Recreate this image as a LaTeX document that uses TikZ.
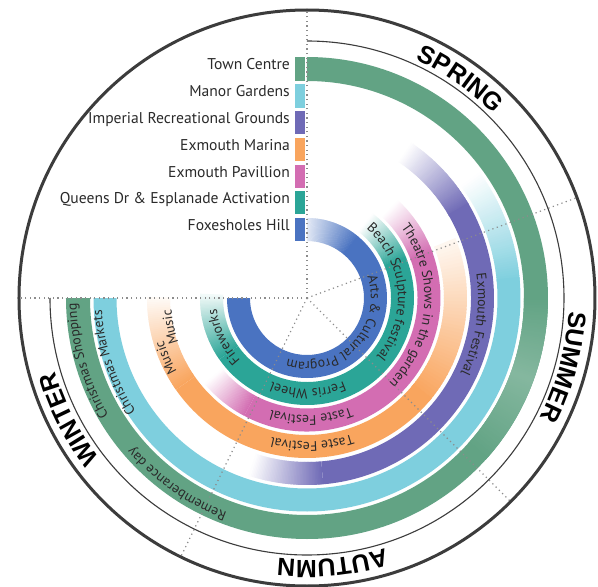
\documentclass[tikz,border=0pt]{standalone}
\usepackage{fontspec}
\setmainfont{PT Sans}
\newfontfamily\seasonfam{Liberation Sans}
\usetikzlibrary{decorations.text}
\definecolor{cgreen}{HTML}{62A384}
\definecolor{clblue}{HTML}{7ECFDE}
\definecolor{cpurple}{HTML}{6F6AB6}
\definecolor{corange}{HTML}{F9A55E}
\definecolor{cpink}{HTML}{D36DB2}
\definecolor{cteal}{HTML}{2BA597}
\definecolor{cblue}{HTML}{4A73C1}
\definecolor{cdot}{HTML}{8C8C8C}
\definecolor{cline}{HTML}{3C3C3C}
\definecolor{ctext}{HTML}{2A2A2A}
\newcommand{\ringsec}[5]{%
  \fill[#5] (#3:#1) arc[start angle=#3,end angle=#4,radius=#1] -- (#4:#2) arc[start angle=#4,end angle=#3,radius=#2] -- cycle;}
\newcommand{\ringfade}[7]{%
  \foreach \k in {0,...,47}{%
    \pgfmathsetmacro{\angA}{#3+(#4-#3)*\k/48}%
    \pgfmathsetmacro{\angB}{#3+(#4-#3)*(\k+1.4)/48}%
    \pgfmathsetmacro{\pctm}{#6+(#7-#6)*(\k+0.5)/48}%
    \fill[#5!\pctm!white] (\angA:#1) arc[start angle=\angA,end angle=\angB,radius=#1] -- (\angB:#2) arc[start angle=\angB,end angle=\angA,radius=#2] -- cycle;
  }}
\newcommand{\ringlabelfont}{\fontsize{13.8}{13.8}\selectfont\color{ctext}}
\newcommand{\seasonfont}{\seasonfam\bfseries\fontsize{25}{25}\selectfont\color{black}}
\newcommand{\arctext}[5]{%
  \path[decorate,decoration={text along path,text align=center,text={|#4|#5}}]
    ({#1+#2}:#3) arc[start angle={#1+#2},end angle={#1-#2},radius=#3];}
\tikzset{
  guide/.style={cdot,line width=1.2pt,dash pattern=on 1.2pt off 3.4pt},
  legendtext/.style={anchor=base east,inner sep=0pt,font=\fontsize{15.6}{15.6}\selectfont,text=ctext},
}
\begin{document}
\begin{tikzpicture}[x=1pt,y=1pt]
\fill[white] (-307,-289) rectangle (291,298);
\useasboundingbox (-307,-289) rectangle (291,298);
\coordinate (o) at (0,0);
% blue 0
\ringfade{57}{80}{90}{50}{cblue}{15}{100}
\ringsec{57}{80}{50.5}{-180}{cblue}
% teal 1
\ringfade{84}{107}{52}{22}{cteal}{0}{100}
\ringsec{84}{107}{22.5}{-145}{cteal}
\ringfade{84}{107}{-145}{-182}{cteal}{100}{5}
% pink 2
\ringfade{110.5}{133.5}{47}{20}{cpink}{0}{100}
\ringsec{110.5}{133.5}{20.5}{-118}{cpink}
\ringfade{110.5}{133.5}{-118}{-140}{cpink}{100}{0}
% orange 3
\ringfade{137}{160}{22}{-40}{corange}{8}{100}
\ringsec{137}{160}{-39}{-145}{corange}
\ringfade{137}{160}{-145}{-180}{corange}{100}{5}
% purple 4
\ringfade{164}{187}{56}{30}{cpurple}{0}{100}
\ringsec{164}{187}{30.5}{-85}{cpurple}
\ringfade{164}{187}{-85}{-108}{cpurple}{100}{0}
% light blue 5
\ringfade{190.5}{213.5}{36}{5}{clblue}{0}{100}
\ringsec{190.5}{213.5}{5.5}{-180}{clblue}
% green 6
\ringsec{217}{241}{90}{-180}{cgreen}
\ringfade{217}{241}{0}{-20}{cgreen}{100}{78}
\ringfade{217}{241}{-20}{-42}{cgreen}{78}{100}
% guide lines
\coordinate (g1) at (90:287);
\coordinate (g2) at (20.4:287);
\coordinate (g3) at (-45:287);
\coordinate (g4) at (-116:287);
\coordinate (g5) at (180:287);
\foreach \g in {g1,g2,g3,g4,g5}{\draw[guide] (o) -- (\g);}
% circles
\draw[cline,line width=3pt] (o) circle[radius=288];
\draw[cline,line width=1.1pt] (90:257) arc[start angle=90,end angle=-180,radius=257];
% legend
\foreach \rin/\rout/\col/\name/\txt in {
  217/241/cgreen/lg6/Town Centre,
  190.5/213.5/clblue/lg5/Manor Gardens,
  164/187/cpurple/lg4/Imperial Recreational Grounds,
  137/160/corange/lg3/Exmouth Marina,
  110.5/133.5/cpink/lg2/Exmouth Pavillion,
  84/107/cteal/lg1/Queens Dr \& Esplanade Activation,
  57/80/cblue/lg0/Foxesholes Hill}{
  \fill[\col] (-12,\rin) rectangle (-2,\rout);
  \node[legendtext] (\name) at (-17,\rout-12.5) {\txt};
}
% ring labels
\arctext{-44}{85}{64}{\ringlabelfont}{Arts {\&} Cultural Program}
\arctext{4.5}{80}{91}{\ringlabelfont}{Beach Sculpture festival}
\arctext{-89.5}{60}{91}{\ringlabelfont}{Ferris Wheel}
\arctext{205}{50}{91}{\ringlabelfont}{Fireworks}
\arctext{-4.5}{70}{117.5}{\ringlabelfont}{Theatre Shows in the garden}
\arctext{-88}{50}{117.5}{\ringlabelfont}{Taste Festival}
\arctext{-88}{50}{144}{\ringlabelfont}{Taste Festival}
\arctext{203}{25}{149.5}{\ringlabelfont}{Music}
\arctext{192}{25}{136}{\ringlabelfont}{Music}
\arctext{-9}{40}{171}{\ringlabelfont}{Exmouth Festival}
\arctext{198.5}{40}{205.5}{\ringlabelfont}{Christmas Markets}
\arctext{196}{40}{230.5}{\ringlabelfont}{Christmas Shopping}
\arctext{235}{40}{228.5}{\ringlabelfont}{Rememberance day}
% seasons
\arctext{55}{40}{262}{\seasonfont}{SPRING}
\arctext{-15}{40}{262}{\seasonfont}{SUMMER}
\arctext{-84.5}{40}{262}{\seasonfont}{AUTUMN}
\arctext{207}{40}{262}{\seasonfont}{WINTER}
\end{tikzpicture}
\end{document}
